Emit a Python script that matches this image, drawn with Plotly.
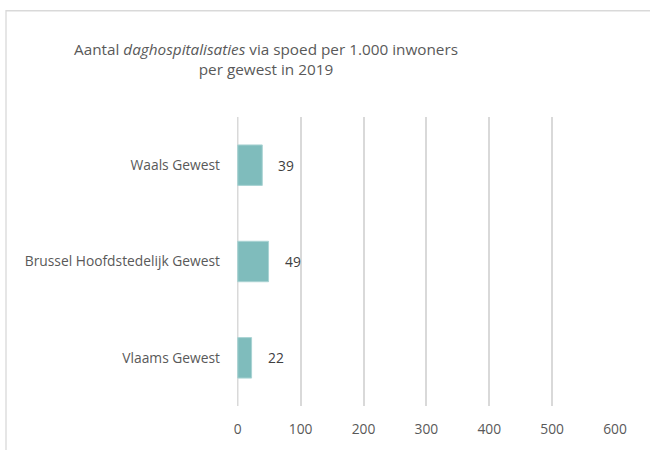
import plotly.graph_objects as go

categories = ["Vlaams Gewest", "Brussel Hoofdstedelijk Gewest", "Waals Gewest"]
values = [22, 49, 39]
x_ticks = [0, 100, 200, 300, 400, 500, 600]

FONT = "Open Sans"
GRAY = "#595959"
GRID = "#d9d9d9"
BAR = "#7fbcbc"
TICK_SIZE = 13.8

fig = go.Figure()
fig.add_trace(go.Bar(
    x=values, y=categories, orientation="h",
    marker=dict(color=BAR, line=dict(color="#a9d3d3", width=1)),
    width=0.42, hoverinfo="skip",
))

for c, v in zip(categories, values):
    fig.add_annotation(x=v, y=c, text=str(v), showarrow=False,
                       xanchor="left", xshift=14,
                       font=dict(family=FONT, size=TICK_SIZE, color="#404040"))

# chart border (Excel chart area)
L, R, T, B = 237, 35, 117, 42
W, H = 650, 450
pw, ph = W - L - R, H - T - B
def px_x(p): return (p - L) / pw
def px_y(p): return (H - B - p) / ph
fig.add_shape(type="rect", xref="paper", yref="paper",
              x0=px_x(6), x1=px_x(700), y0=px_y(500), y1=px_y(10),
              line=dict(color=GRID, width=1.3), fillcolor="rgba(0,0,0,0)", layer="below")

fig.add_annotation(xref="paper", yref="paper",
                   x=px_x(266), y=px_y(59), xanchor="center", yanchor="middle",
                   text="Aantal <i>daghospitalisaties</i> via spoed per 1.000 inwoners<br>per gewest in 2019",
                   showarrow=False, align="center",
                   font=dict(family=FONT, size=15.3, color=GRAY))

fig.update_layout(
    width=W, height=H,
    margin=dict(l=L, r=R, t=T, b=B),
    paper_bgcolor="white", plot_bgcolor="white",
    showlegend=False,
    font=dict(family=FONT, size=TICK_SIZE, color=GRAY),
    xaxis=dict(range=[-1.2, 600], tickvals=x_ticks, ticktext=[str(t) for t in x_ticks],
               showgrid=True, gridcolor=GRID, gridwidth=1.5,
               zeroline=False, showline=False, ticks="", fixedrange=True,
               ticklabelstandoff=13, tickfont=dict(family=FONT, size=TICK_SIZE, color=GRAY)),
    yaxis=dict(categoryorder="array", categoryarray=categories,
               showgrid=False, zeroline=False, showline=False, ticks="",
               ticklabelstandoff=16, tickfont=dict(family=FONT, size=TICK_SIZE, color=GRAY)),
)
fig.add_shape(type="line", xref="x", yref="paper", x0=0, x1=0, y0=0, y1=1,
              line=dict(color=GRID, width=1.5), layer="below")

fig.write_html("out.html")
